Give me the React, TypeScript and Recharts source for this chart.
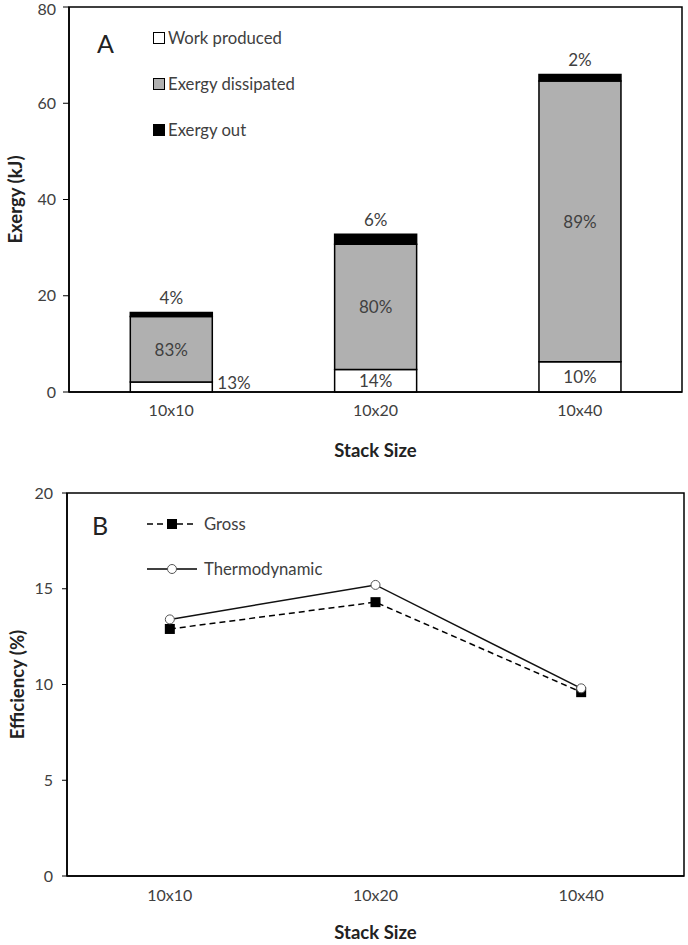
import React from 'react'
import {
  ComposedChart,
  Bar,
  Line,
  LabelList,
  XAxis,
  YAxis,
  Legend,
  ReferenceArea,
} from 'recharts'

// Stack sizes (shared category axis)
const stackSizes = ['10x10', '10x20', '10x40']

// Panel A: exergy split (kJ)
const workProduced = [2.1, 4.7, 6.3]
const exergyDissipated = [13.6, 26.0, 58.3]
const exergyOut = [0.8, 2.1, 1.4]
const workPct = ['13%', '14%', '10%']
const dissipatedPct = ['83%', '80%', '89%']
const outPct = ['4%', '6%', '2%']
const exergyTicks = [0, 20, 40, 60, 80]

// Panel B: efficiency (%)
const grossEff = [12.9, 14.3, 9.6]
const thermoEff = [13.4, 15.2, 9.8]
const effTicks = [0, 5, 10, 15, 20]

const exergyData = stackSizes.map((size, i) => ({
  size,
  work: workProduced[i],
  dissipated: exergyDissipated[i],
  out: exergyOut[i],
  workPct: workPct[i],
  dissipatedPct: dissipatedPct[i],
  outPct: outPct[i],
}))

const effData = stackSizes.map((size, i) => ({
  size,
  gross: grossEff[i],
  thermo: thermoEff[i],
}))

const FONT = 'Lato, "Liberation Sans", sans-serif'
const TEXT = '#404040'
const GRAY = '#b0b0b0'
const LABEL_SIZE = 17

const tickStyle = { fontSize: 16, fill: TEXT, fontFamily: FONT }
const titleStyle = { fontSize: 18.5, fontWeight: 700, fill: '#222', fontFamily: FONT }

// legend order follows the series order, not the alphabet
const barOrder = ['work', 'dissipated', 'out']
const lineOrder = ['gross', 'thermo']

function sortBy(payload: any[], order: string[]) {
  return [...(payload || [])].sort((a, b) => order.indexOf(a.dataKey) - order.indexOf(b.dataKey))
}

// label inside the white segment, or beside it when the segment is too thin
function WorkLabel(props: any) {
  const { x, y, width, height, value } = props
  const small = height < 18
  return (
    <text
      x={small ? x + width + 5 : x + width / 2}
      y={y + height / 2 - (small ? 4 : 0)}
      textAnchor={small ? 'start' : 'middle'}
      dominantBaseline="central"
      fontSize={LABEL_SIZE}
      fill={TEXT}
      fontFamily={FONT}
    >
      {value}
    </text>
  )
}

function CenterLabel(props: any) {
  const { x, y, width, height, value } = props
  return (
    <text
      x={x + width / 2}
      y={y + height / 2}
      textAnchor="middle"
      dominantBaseline="central"
      fontSize={LABEL_SIZE}
      fill={TEXT}
      fontFamily={FONT}
    >
      {value}
    </text>
  )
}

function TopLabel(props: any) {
  const { x, y, width, value } = props
  return (
    <text
      x={x + width / 2}
      y={y - 15}
      textAnchor="middle"
      dominantBaseline="central"
      fontSize={LABEL_SIZE}
      fill={TEXT}
      fontFamily={FONT}
    >
      {value}
    </text>
  )
}

function BarLegend({ payload }: any) {
  return (
    <div style={{ display: 'flex', flexDirection: 'column', gap: 24 }}>
      {sortBy(payload, barOrder).map((entry: any) => (
        <div key={entry.value} style={{ display: 'flex', alignItems: 'center', height: 22 }}>
          <span
            style={{
              width: 10,
              height: 10,
              background: entry.color,
              border: '1px solid #000',
              marginRight: 3,
            }}
          />
          <span style={{ fontSize: 16.7, color: TEXT, fontFamily: FONT }}>{entry.value}</span>
        </div>
      ))}
    </div>
  )
}

const lineLegendStyle: Record<string, { dash?: string; marker: 'square' | 'circle' }> = {
  gross: { dash: '6 4', marker: 'square' },
  thermo: { marker: 'circle' },
}

function LineLegend({ payload }: any) {
  return (
    <div style={{ display: 'flex', flexDirection: 'column', gap: 23 }}>
      {sortBy(payload, lineOrder).map((entry: any) => {
        const st = lineLegendStyle[entry.dataKey] || { marker: 'circle' }
        return (
          <div key={entry.value} style={{ display: 'flex', alignItems: 'center', height: 22 }}>
            <svg width={52} height={14} style={{ marginRight: 5 }}>
              <line x1={0} y1={7} x2={50} y2={7} stroke="#000" strokeWidth={1.5} strokeDasharray={st.dash} />
              {st.marker === 'square' ? (
                <rect x={20} y={2} width={10} height={10} fill="#000" />
              ) : (
                <circle cx={25} cy={7} r={4.5} fill="#fff" stroke="#555" strokeWidth={1} />
              )}
            </svg>
            <span style={{ fontSize: 16.7, color: TEXT, fontFamily: FONT }}>{entry.value}</span>
          </div>
        )
      })}
    </div>
  )
}

function SquareDot(props: any) {
  const { cx, cy, index } = props
  return <rect key={`sq-${index}`} x={cx - 5} y={cy - 5} width={10} height={10} fill="#000" />
}

export default function App() {
  return (
    <div style={{ position: 'absolute', left: 0, top: 0, width: 688, height: 945, background: '#fff', fontFamily: FONT }}>
      {/* Panel A */}
      <div style={{ position: 'relative', width: 688, height: 470 }}>
        <ComposedChart width={688} height={470} data={exergyData} margin={{ top: 7, right: 6, left: 0, bottom: 18 }} barCategoryGap="30%">
          <XAxis
            dataKey="size"
            height={60}
            tickLine={false}
            tickSize={6}
            tickMargin={7}
            tick={tickStyle}
            axisLine={{ stroke: '#000', strokeWidth: 1.5 }}
            label={{ value: 'Stack Size', position: 'insideBottom', offset: -5, style: titleStyle }}
          />
          <YAxis
            width={69}
            domain={[0, 80]}
            ticks={exergyTicks}
            tickSize={6}
            tickMargin={7}
            tick={tickStyle}
            tickLine={{ stroke: '#000' }}
            axisLine={{ stroke: '#000', strokeWidth: 1.5 }}
            label={{ value: 'Exergy (kJ)', angle: -90, position: 'insideLeft', offset: 15, style: { ...titleStyle, textAnchor: 'middle' } }}
          />
          <ReferenceArea y1={0} y2={80} fill="none" stroke="#000" strokeWidth={1.5} ifOverflow="visible" />
          <Legend
            layout="horizontal"
            verticalAlign="middle"
            align="center"
            content={<BarLegend />}
            wrapperStyle={{ left: 153, top: 27, width: 'auto' }}
          />
          <Bar dataKey="work" name="Work produced" stackId="a" fill="#fff" stroke="#000" strokeWidth={1.5} isAnimationActive={false}>
            <LabelList dataKey="workPct" content={<WorkLabel />} />
          </Bar>
          <Bar dataKey="dissipated" name="Exergy dissipated" stackId="a" fill={GRAY} stroke="#000" strokeWidth={1.5} isAnimationActive={false}>
            <LabelList dataKey="dissipatedPct" content={<CenterLabel />} />
          </Bar>
          <Bar dataKey="out" name="Exergy out" stackId="a" fill="#000" stroke="#000" strokeWidth={1.5} isAnimationActive={false}>
            <LabelList dataKey="outPct" content={<TopLabel />} />
          </Bar>
        </ComposedChart>
        <div style={{ position: 'absolute', left: 97, top: 28, fontSize: 25, color: '#222', fontFamily: FONT }}>A</div>
      </div>

      {/* Panel B */}
      <div style={{ position: 'relative', width: 688, height: 475 }}>
        <ComposedChart width={688} height={475} data={effData} margin={{ top: 23, right: 4, left: 0, bottom: 9 }}>
          <XAxis
            dataKey="size"
            scale="band"
            height={60}
            tickLine={false}
            tickSize={6}
            tickMargin={8}
            tick={tickStyle}
            axisLine={{ stroke: '#000', strokeWidth: 1.5 }}
            label={{ value: 'Stack Size', position: 'insideBottom', offset: -3, style: titleStyle }}
          />
          <YAxis
            width={67}
            domain={[0, 20]}
            ticks={effTicks}
            tickSize={5}
            tickMargin={9}
            tick={tickStyle}
            tickLine={{ stroke: '#000' }}
            axisLine={{ stroke: '#000', strokeWidth: 1.5 }}
            label={{ value: 'Efficiency (%)', angle: -90, position: 'insideLeft', offset: 17, style: { ...titleStyle, textAnchor: 'middle' } }}
          />
          <ReferenceArea y1={0} y2={20} fill="none" stroke="#000" strokeWidth={1.5} ifOverflow="visible" />
          <Legend
            layout="horizontal"
            verticalAlign="middle"
            align="center"
            content={<LineLegend />}
            wrapperStyle={{ left: 147, top: 43, width: 'auto' }}
          />
          <Line
            dataKey="gross"
            name="Gross"
            stroke="#000"
            strokeWidth={1.5}
            strokeDasharray="6 4"
            dot={<SquareDot />}
            activeDot={false}
            isAnimationActive={false}
          />
          <Line
            dataKey="thermo"
            name="Thermodynamic"
            stroke="#111"
            strokeWidth={1.5}
            dot={{ r: 4.5, fill: '#fff', stroke: '#555', strokeWidth: 1 }}
            activeDot={false}
            isAnimationActive={false}
          />
        </ComposedChart>
        <div style={{ position: 'absolute', left: 92, top: 40, fontSize: 25, color: '#222', fontFamily: FONT }}>B</div>
      </div>
    </div>
  )
}
